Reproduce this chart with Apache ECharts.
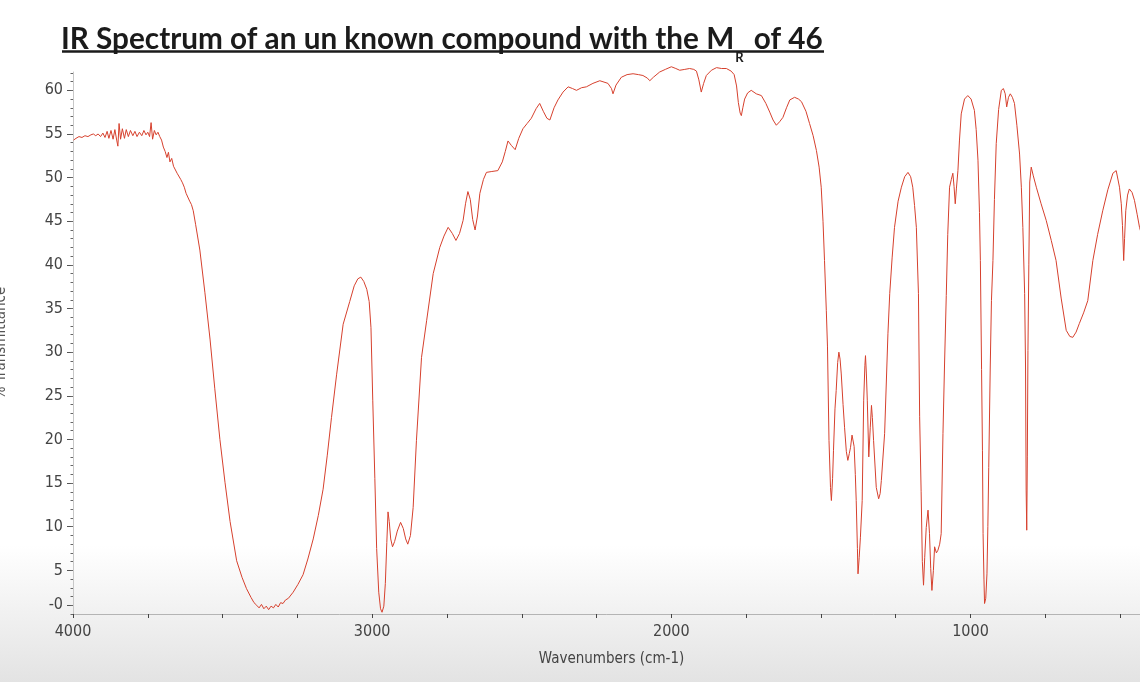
<!DOCTYPE html>
<html><head><meta charset="utf-8">
<script src="https://cdn.jsdelivr.net/npm/echarts@6/dist/echarts.min.js"></script>
<style>
html,body{margin:0;padding:0;width:1140px;height:682px;overflow:hidden;
background:linear-gradient(to bottom,#ffffff 0%,#ffffff 80%,#eeeeee 92%,#e3e3e3 100%);}
#chart{width:1140px;height:682px;}
</style></head><body><div id="chart"></div>
<script>
// Wavenumbers (cm-1), descending, and % transmittance
const wavenumbers = [
3998,3990,3980,3970,3960,3950,3940,3932,3924,3916,3908,3900,3893,3886,3880,3873,3866,3860,3854,3850,
3846,3841,3835,3828,3822,3815,3808,3800,3793,3786,3778,3770,3763,3756,3750,3744,3739,3734,3728,3722,
3716,3710,3704,3698,3692,3686,3681,3676,3670,3664,3658,3652,3646,3640,3634,3628,3622,3616,3610,3604,
3598,3590,3576,3559,3542,3526,3509,3492,3475,3453,3435,3420,3405,3395,3386,3378,3370,3362,3354,3346,
3338,3330,3322,3314,3306,3298,3290,3280,3264,3248,3231,3215,3197,3180,3164,3150,3136,3119,3097,3075,
3060,3048,3038,3028,3018,3010,3004,2998,2991,2985,2978,2972,2967,2961,2956,2951,2947,2943,2938,2932,
2925,2916,2905,2896,2888,2881,2872,2863,2852,2835,2818,2796,2774,2760,2746,2732,2720,2708,2696,2688,
2680,2672,2664,2656,2648,2640,2628,2618,2600,2580,2565,2555,2546,2535,2522,2510,2496,2482,2468,2452,
2440,2428,2416,2406,2392,2379,2362,2345,2330,2317,2300,2284,2262,2239,2212,2200,2195,2185,2167,2148,
2128,2110,2095,2080,2072,2060,2039,2020,2000,1985,1972,1955,1939,1925,1916,1908,1900,1892,1883,1866,
1849,1832,1816,1800,1790,1782,1776,1770,1766,1761,1755,1745,1733,1716,1699,1684,1671,1660,1649,1638,
1627,1615,1604,1588,1575,1565,1550,1538,1526,1515,1506,1499,1493,1488,1482,1478,1473,1468,1465,1461,
1458,1453,1449,1444,1440,1436,1432,1426,1421,1415,1410,1405,1401,1396,1393,1389,1385,1382,1378,1376,
1372,1368,1362,1357,1353,1351,1348,1345,1340,1335,1331,1328,1324,1315,1307,1302,1298,1287,1276,1270,
1262,1254,1242,1231,1220,1209,1200,1193,1187,1181,1174,1170,1165,1161,1157,1153,1148,1142,1137,1133,
1129,1124,1120,1114,1109,1103,1098,1092,1087,1081,1076,1070,1064,1059,1055,1051,1047,1042,1037,1031,
1020,1009,998,987,981,975,970,967,963,960,958,955,953,949,945,942,939,934,930,925,
920,914,906,897,890,884,879,873,867,860,853,845,836,830,825,819,816,814,812,810,
808,805,802,797,790,780,764,747,730,714,697,680,668,658,647,636,622,608,591,575,
558,541,524,513,502,496,492,488,485,481,475,469,460,452,443,435,420,400
];
const transmittance = [
54.3,54.5,54.7,54.6,54.8,54.7,54.9,55.0,54.8,55.0,54.7,55.1,54.6,55.3,54.5,55.4,54.4,55.5,54.3,53.6,
56.2,54.4,55.6,54.5,55.5,54.7,55.4,54.8,55.3,54.7,55.2,54.8,55.4,54.9,55.2,54.7,56.3,54.4,55.4,54.9,
55.2,54.7,54.3,53.5,53.0,52.3,52.9,51.8,52.2,51.3,51.1,50.5,50.6,49.8,49.4,48.9,48.2,48.4,47.3,46.9,
46.2,44.6,41.7,36.8,31.5,25.8,20.0,15.1,10.6,6.1,4.2,2.9,1.9,1.3,1.0,0.7,1.1,0.6,0.9,0.5,
0.9,0.7,1.1,0.8,1.3,1.2,1.6,1.8,2.5,3.4,4.5,6.3,8.6,11.3,14.3,18.2,22.5,27.4,33.2,35.8,
37.6,38.4,38.6,38.1,37.2,35.8,32.8,24.5,15.5,7.5,2.5,0.6,0.2,0.9,3.5,8.2,11.7,10.6,8.6,7.7,
8.3,9.5,10.5,9.8,8.6,8.0,9.0,12.2,19.9,29.4,33.6,39.0,42.0,43.3,44.3,43.6,42.8,43.6,45.1,47.0,
48.4,47.5,45.2,44.0,45.6,48.2,49.8,50.6,50.7,50.8,51.8,53.0,54.2,53.7,53.2,54.5,55.6,56.2,56.8,57.9,
58.5,57.6,56.8,56.6,58.0,58.9,59.8,60.4,60.2,60.0,60.3,60.4,60.8,61.1,60.8,60.2,59.6,60.6,61.5,61.8,
61.9,61.8,61.7,61.4,61.1,61.5,62.1,62.4,62.7,62.5,62.3,62.4,62.5,62.4,62.2,61.2,59.8,60.8,61.7,62.3,
62.6,62.5,62.5,62.2,61.8,60.5,58.6,57.4,57.1,58.0,59.0,59.7,60.0,59.6,59.4,58.5,57.5,56.6,56.0,56.4,
56.9,58.0,58.9,59.2,59.0,58.7,57.6,56.2,54.8,53.1,51.2,48.9,45.0,40.5,34.8,30.6,19.9,14.5,13.0,15.5,
18.7,23.5,25.6,28.8,30.0,29.2,27.5,24.0,21.4,18.6,17.6,18.4,19.1,20.5,20.7,19.2,16.0,13.0,7.5,4.6,
6.5,8.8,13.0,24.5,28.5,29.6,27.5,24.5,18.0,21.4,23.9,22.5,19.9,14.5,13.2,13.8,15.3,20.7,32.1,36.7,
40.8,44.3,47.3,48.9,50.1,50.6,50.1,48.9,46.8,44.3,36.7,22.6,14.0,6.0,3.3,6.5,9.9,11.9,9.2,5.2,
2.7,5.0,7.7,7.0,7.3,8.0,9.2,20.7,28.3,36.5,43.5,48.9,49.8,50.5,49.0,47.0,48.8,50.8,54.2,57.3,
59.0,59.4,59.0,57.7,55.5,52.0,46.0,40.5,28.0,18.7,9.2,4.0,1.2,1.8,4.6,10.0,16.8,28.3,35.9,40.5,
47.5,53.9,57.8,60.0,60.2,59.6,58.1,59.2,59.6,59.2,58.5,56.0,52.7,48.9,44.3,36.7,28.3,14.2,9.6,18.0,
30.2,40.0,49.5,51.2,50.2,48.9,47.0,45.1,42.8,40.5,36.2,32.5,31.8,31.7,32.3,33.3,34.5,35.9,40.5,43.5,
46.2,48.6,50.5,50.8,48.9,47.0,44.5,40.5,43.0,46.2,48.0,48.7,48.3,47.4,45.8,44.3,42.5,41.0
];
// Axis ticks and labels
const xTickValues = [4000,3750,3500,3250,3000,2750,2500,2250,2000,1750,1500,1250,1000,750,500];
const xLabelValues = [4000,3000,2000,1000];
const yLabelValues = [1,5,10,15,20,25,30,35,40,45,50,55,60];
const yLabelTexts = ['-0','5','10','15','20','25','30','35','40','45','50','55','60'];
const yMinorTickValues = [0,1,2,3,4,5,6,7,8,9,10,11,12,13,14,15,16,17,18,19,20,21,22,23,24,25,26,27,28,29,30,
  31,32,33,34,35,36,37,38,39,40,41,42,43,44,45,46,47,48,49,50,51,52,53,54,55,56,57,58,59,60,61,62];

const seriesData = wavenumbers.map((w, i) => [w, transmittance[i]]);
const labelFont = "'Liberation Sans Narrow','DejaVu Sans Condensed','Liberation Sans',sans-serif";

const chart = echarts.init(document.getElementById('chart'), null, {renderer: 'canvas'});
chart.setOption({
  animation: false,
  backgroundColor: 'transparent',
  title: {
    left: 61, top: 24, padding: 0,
    text: '{a|IR Spectrum of an un known compound with the M}{s|R}{a| of 46}',
    textStyle: {
      rich: {
        a: {fontFamily: 'Lato', fontWeight: 'bold', fontSize: 29.7, color: '#1b1b1b'},
        s: {fontFamily: 'Lato', fontWeight: 'bold', fontSize: 13, color: '#1b1b1b',
            verticalAlign: 'top', padding: [27, 3, 0, 1], lineHeight: 13}
      }
    }
  },
  graphic: [{
    type: 'line', silent: true,
    shape: {x1: 62, y1: 51.5, x2: 824, y2: 51.5},
    style: {stroke: '#1b1b1b', lineWidth: 2.5}
  }],
  grid: {left: 73, right: -10, top: 72, bottom: 68, outerBoundsMode: 'none'},
  xAxis: {
    type: 'value', inverse: true, min: 400, max: 4000,
    name: 'Wavenumbers (cm-1)', nameLocation: 'middle', nameGap: 38,
    nameTextStyle: {fontFamily: labelFont, fontSize: 15, color: '#444'},
    axisLine: {show: true, onZero: false, lineStyle: {color: '#b4b4b4', width: 1}},
    axisTick: {show: true, length: 4, customValues: xTickValues, lineStyle: {color: '#444'}},
    axisLabel: {customValues: xLabelValues, margin: 10, fontFamily: labelFont, fontSize: 16, color: '#444',
      formatter: v => String(v)},
    splitLine: {show: false}
  },
  yAxis: [{
    type: 'value', min: 0, max: 62.1, position: 'left',
    name: '% Transmittance', nameLocation: 'middle', nameGap: 64,
    nameTextStyle: {fontFamily: labelFont, fontSize: 15, color: '#555'},
    axisLine: {show: true, lineStyle: {color: '#c8c8c8'}},
    axisTick: {show: true, length: 6, customValues: yLabelValues, lineStyle: {color: '#555'}},
    axisLabel: {customValues: yLabelValues, margin: 10, fontFamily: labelFont, fontSize: 16, color: '#444',
      formatter: v => yLabelTexts[yLabelValues.indexOf(v)]},
    splitLine: {show: false}
  }, {
    type: 'value', min: 0, max: 62.1, position: 'left',
    axisLine: {show: false},
    axisTick: {show: true, length: 2.5, customValues: yMinorTickValues, lineStyle: {color: '#666'}},
    axisLabel: {show: false},
    splitLine: {show: false}
  }],
  series: [{
    type: 'line', yAxisIndex: 0, data: seriesData, showSymbol: false, clip: false,
    lineStyle: {color: '#d6402d', width: 1}
  }]
});
</script></body></html>
